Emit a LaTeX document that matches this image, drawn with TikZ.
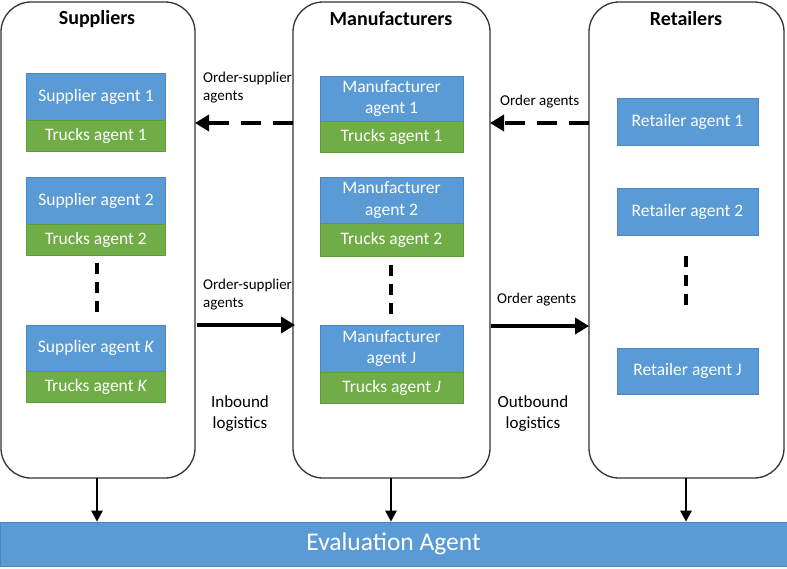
\documentclass[tikz,border=0pt]{standalone}
\usepackage{fontspec}
\setmainfont{Carlito}
\usetikzlibrary{arrows.meta}
\definecolor{agblue}{HTML}{5B9BD5}
\definecolor{agblueedge}{HTML}{4A86C0}
\definecolor{aggreen}{HTML}{70AD47}
\definecolor{aggreenedge}{HTML}{5E9A3A}
\definecolor{boxline}{HTML}{333333}
\tikzset{
  container/.style={draw=boxline, line width=1.3pt, rounded corners=30pt},
  titletext/.style={font=\fontsize{20}{22}\selectfont\bfseries, text=black},
  bluebox/.style={fill=agblue, draw=agblueedge, line width=0.6pt, text=white, align=center, inner sep=0pt, font=\fontsize{17.5}{21.5}\selectfont},
  greenbox/.style={fill=aggreen, draw=aggreenedge, line width=0.6pt, text=white, align=center, inner sep=0pt, font=\fontsize{17.5}{21.5}\selectfont},
  lbl/.style={font=\fontsize{15}{18}\selectfont, align=left, inner sep=0pt},
  lblc/.style={font=\fontsize{17}{21}\selectfont, align=center, inner sep=0pt},
  flowarrow/.style={line width=4pt, -{Triangle[length=14pt,width=16pt]}},
  dasharrow/.style={line width=4pt, dash pattern=on 20pt off 12pt, -{Triangle[length=14pt,width=16pt]}},
  dots/.style={line width=3.5pt, dash pattern=on 11pt off 8pt},
  downarrow/.style={line width=2.6pt, -{Triangle[length=11pt,width=11pt]}}
}
\begin{document}
\begin{tikzpicture}[x=1pt,y=-1pt]
\useasboundingbox (0,0) rectangle (787,568);
% containers
\draw[container] (1,2) rectangle (195,478);
\draw[container] (293,2) rectangle (490,478);
\draw[container] (589,2) rectangle (784,478);
\coordinate (supR1) at (195,123);
\coordinate (manL1) at (293,123);
\coordinate (manR1) at (490,123);
\coordinate (retL1) at (589,123);
\coordinate (supR2) at (197,325);
\coordinate (manL2) at (295,325);
\coordinate (manR2) at (491,326);
\coordinate (retL2) at (589,326);
\coordinate (supB) at (97,478);
\coordinate (manB) at (391,478);
\coordinate (retB) at (686,478);
% titles
\node[titletext] (tS) at (97,19) {Suppliers};
\node[titletext] (tM) at (391,19) {Manufacturers};
\node[titletext] (tR) at (686,19) {Retailers};
% supplier agents
\node[bluebox, minimum width=139pt, minimum height=47pt] (s1) at (96,96.5) {Supplier agent 1};
\node[greenbox, minimum width=139pt, minimum height=31pt] (ts1) at (96,135.5) {Trucks agent 1};
\node[bluebox, minimum width=139pt, minimum height=47pt] (s2) at (96,200.5) {Supplier agent 2};
\node[greenbox, minimum width=139pt, minimum height=31pt] (ts2) at (96,239.5) {Trucks agent 2};
\node[bluebox, minimum width=139pt, minimum height=46pt] (sk) at (96,348) {Supplier agent \textit{K}};
\node[greenbox, minimum width=139pt, minimum height=31pt] (tsk) at (96,386.5) {Trucks agent \textit{K}};
\draw[dots] (97,263) -- (97,317);
% manufacturer agents
\node[bluebox, minimum width=143pt, minimum height=45pt] (m1) at (391.5,98.5) {Manufacturer\\agent 1};
\node[greenbox, minimum width=143pt, minimum height=31pt] (tm1) at (391.5,136.5) {Trucks agent 1};
\node[bluebox, minimum width=143pt, minimum height=46pt] (m2) at (391.5,200) {Manufacturer\\agent 2};
\node[greenbox, minimum width=143pt, minimum height=33pt] (tm2) at (391.5,239.5) {Trucks agent 2};
\node[bluebox, minimum width=143pt, minimum height=47pt] (mj) at (391.5,348.5) {Manufacturer\\agent J};
\node[greenbox, minimum width=143pt, minimum height=31pt] (tmj) at (391.5,387.5) {Trucks agent \textit{J}};
\draw[dots] (391,265) -- (391,319);
% retailer agents
\node[bluebox, minimum width=141pt, minimum height=47pt] (r1) at (687.5,122) {Retailer agent 1};
\node[bluebox, minimum width=141pt, minimum height=47pt] (r2) at (687.5,211.5) {Retailer agent 2};
\node[bluebox, minimum width=141pt, minimum height=46pt] (rj) at (687.5,371) {Retailer agent J};
\draw[dots] (686,256) -- (686,310);
% flow arrows
\draw[dasharrow] (manL1) -- (supR1);
\draw[dasharrow] (retL1) -- (manR1);
\draw[flowarrow] (supR2) -- (manL2);
\draw[flowarrow] (manR2) -- (retL2);
% labels
\node[lbl, anchor=north west] (l1) at (203,72) {Order-supplier\\agents};
\node[lbl, anchor=west] (l2) at (500,102) {Order agents};
\node[lbl, anchor=north west] (l3) at (203,279) {Order-supplier\\agents};
\node[lbl, anchor=west] (l4) at (497,300) {Order agents};
\node[lblc] (l5) at (240,414) {Inbound\\logistics};
\node[lblc] (l6) at (533,414) {Outbound\\logistics};
% evaluation
\node[fill=agblue, draw=agblueedge, line width=0.6pt, minimum width=787pt, minimum height=44pt, inner sep=0pt, text=white, font=\fontsize{25.5}{28}\selectfont] (ev) at (393.5,544) {Evaluation Agent};
\draw[downarrow] (supB) -- (ev.north -| supB);
\draw[downarrow] (manB) -- (ev.north -| manB);
\draw[downarrow] (retB) -- (ev.north -| retB);
\end{tikzpicture}
\end{document}
